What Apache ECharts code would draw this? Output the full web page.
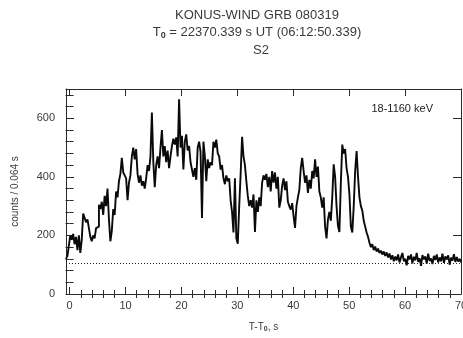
<!DOCTYPE html>
<html>
<head>
<meta charset="utf-8">
<script src="https://cdn.jsdelivr.net/npm/echarts@6/dist/echarts.min.js"></script>
<style>
  html, body { margin: 0; padding: 0; background: #ffffff; }
  #chart { width: 463px; height: 338px; }
</style>
</head>
<body>
<div id="chart"></div>
<script>
// Konus-Wind S2 light curve, 18-1160 keV, rebinned to 0.256 s
const binStart = -0.64;   // s, relative to T0
const binWidth = 0.256;   // s

// counts per 0.064 s, one value per bin
const countsRise = [
  120, 130, 165, 200, 185, 205, 170, 195, 150, 200,
  140, 185, 275, 260, 245, 255, 225, 195, 180, 200,
  190, 225, 230, 305, 290, 315, 270, 335, 300, 360,
  255, 180, 215, 290, 270, 350, 330, 385, 410, 465,
  415, 405
];
const countsFirstPeak = [
  395, 320, 380, 405, 470, 500, 460, 495, 410, 380,
  405, 370, 385, 360, 395, 440, 420, 470, 620, 450,
  365, 440, 470, 430, 500, 560, 470, 505, 450, 490,
  430, 470, 505, 530, 510, 535, 470, 665, 500, 540,
  425, 520, 545, 490, 505, 450, 425, 400, 430, 390,
  500, 520, 485, 260, 520, 470, 385, 460, 430, 450,
  440, 520, 500, 527, 480, 470, 425, 440, 395, 375,
  405, 385, 395, 320, 280, 210, 395, 190
];
const countsMiddle = [
  172, 300, 410, 537, 470, 440, 385, 335, 300, 320,
  295, 340, 212, 320, 280, 330, 300, 380, 405, 390,
  410, 365, 400, 350, 420, 380, 415, 360, 400, 295,
  320, 370, 395, 355, 385, 315, 300, 288, 310, 265,
  226, 300, 330, 355, 430, 465, 420, 380, 405, 345,
  390, 360, 420, 395, 460, 400, 435, 350, 330, 295,
  330, 230, 190, 255, 280, 250, 330, 443, 400, 300,
  232, 212, 380, 510, 480, 495, 430, 400, 340, 230
];
const countsDecay = [
  210, 300, 420, 488, 400, 330, 300, 285, 250, 230,
  210, 195, 175, 160, 170, 150, 162, 145, 155, 140,
  148, 135, 145, 130, 142, 125, 138, 118, 132, 112,
  128
];
const countsTail = [
  115, 135, 108, 125, 140, 112, 120, 98, 130, 118,
  135, 105, 127, 115, 140, 110, 122, 96, 133, 118,
  128, 104, 138, 113, 121, 102, 130, 116, 135, 108,
  125, 112, 138, 106, 128, 118, 132, 100, 124, 114,
  136, 109, 126, 111, 120, 108
];

const backgroundLevel = 106;

const xMajorTicks = [0, 10, 20, 30, 40, 50, 60, 70];
const xMinorTicks = [2, 4, 6, 8, 12, 14, 16, 18, 22, 24, 26, 28, 32, 34, 36, 38,
                     42, 44, 46, 48, 52, 54, 56, 58, 62, 64, 66, 68];
const yMajorTicks = [0, 200, 400, 600];
const yMinorTicks = [40, 80, 120, 160, 240, 280, 320, 360, 440, 480, 520, 560, 640, 680];

const counts = [].concat(countsRise, countsFirstPeak, countsMiddle, countsDecay, countsTail);
const points = counts.map((c, i) => [binStart + i * binWidth, c]);

const FONT = '"Liberation Sans", Arial, sans-serif';
const TEXT_COLOR = '#3a3a3a';
const FRAME_COLOR = '#2a2a2a';
const X_MIN = -0.64, X_MAX = 70, Y_MIN = 0, Y_MAX = 700;

function frameAxis(base, extra) {
  return Object.assign({
    type: 'value',
    min: base.min, max: base.max,
    splitLine: { show: false },
    axisLine: { show: false },
    axisLabel: { show: false },
    axisTick: { show: true, inside: true, length: 4, lineStyle: { color: FRAME_COLOR, width: 1 } }
  }, extra);
}

const xb = { min: X_MIN, max: X_MAX };
const yb = { min: Y_MIN, max: Y_MAX };

const chart = echarts.init(document.getElementById('chart'), null, { renderer: 'canvas' });

chart.setOption({
  animation: false,
  backgroundColor: '#ffffff',
  grid: { left: 66, right: 2, top: 89, bottom: 44, containLabel: false, outerBoundsMode: 'none' },
  graphic: [
    {
      type: 'text', x: 257, y: 15,
      style: { text: 'KONUS-WIND GRB 080319', align: 'center', verticalAlign: 'middle',
               font: '13px ' + FONT, fill: TEXT_COLOR }
    },
    {
      type: 'text', x: 257, y: 32,
      style: {
        text: 'T{sub|0} = 22370.339 s UT (06:12:50.339)',
        align: 'center', verticalAlign: 'middle',
        fontFamily: FONT, fontSize: 13, fill: TEXT_COLOR,
        rich: { sub: { fontSize: 9, fontWeight: 'bold', fill: TEXT_COLOR, fontFamily: FONT, padding: [7, 0, 0, 0] } }
      }
    },
    {
      type: 'text', x: 261, y: 50,
      style: { text: 'S2', align: 'center', verticalAlign: 'middle',
               font: '13px ' + FONT, fill: TEXT_COLOR }
    },
    {
      type: 'text', x: 433, y: 109,
      style: { text: '18-1160 keV', align: 'right', verticalAlign: 'middle',
               font: '11px ' + FONT, fill: '#222' }
    }
  ],
  xAxis: [
    {
      type: 'value', position: 'bottom', min: X_MIN, max: X_MAX,
      splitLine: { show: false },
      axisLine: { show: true, onZero: false, lineStyle: { color: FRAME_COLOR, width: 1 } },
      axisTick: { show: true, inside: true, length: 7, customValues: xMajorTicks,
                  lineStyle: { color: FRAME_COLOR, width: 1 } },
      axisLabel: { customValues: xMajorTicks, margin: 6, fontFamily: FONT, fontSize: 11, color: TEXT_COLOR },
      name: 'T-T{sub|0}, s', nameLocation: 'middle', nameGap: 27,
      nameTextStyle: { fontFamily: FONT, fontSize: 10, color: TEXT_COLOR,
                       rich: { sub: { fontSize: 7, fontWeight: 'bold', color: TEXT_COLOR, padding: [5, 0, 0, 0] } } }
    },
    frameAxis(xb, { position: 'bottom', axisTick: { show: true, inside: true, length: 4, customValues: xMinorTicks,
                                                   lineStyle: { color: FRAME_COLOR, width: 1 } } }),
    frameAxis(xb, { position: 'top', axisLine: { show: true, onZero: false, lineStyle: { color: FRAME_COLOR, width: 1 } },
                    axisTick: { show: true, inside: true, length: 7, customValues: xMajorTicks,
                                lineStyle: { color: FRAME_COLOR, width: 1 } } }),
    frameAxis(xb, { position: 'top', axisTick: { show: true, inside: true, length: 4, customValues: xMinorTicks,
                                                lineStyle: { color: FRAME_COLOR, width: 1 } } })
  ],
  yAxis: [
    {
      type: 'value', position: 'left', min: Y_MIN, max: Y_MAX,
      splitLine: { show: false },
      axisLine: { show: true, onZero: false, lineStyle: { color: FRAME_COLOR, width: 1 } },
      axisTick: { show: true, inside: true, length: 8, customValues: yMajorTicks,
                  lineStyle: { color: FRAME_COLOR, width: 1 } },
      axisLabel: { customValues: yMajorTicks, margin: 11, fontFamily: FONT, fontSize: 11, color: TEXT_COLOR },
      name: 'counts / 0.064 s', nameLocation: 'middle', nameGap: 46,
      nameTextStyle: { fontFamily: FONT, fontSize: 10, color: TEXT_COLOR }
    },
    frameAxis(yb, { position: 'left', axisTick: { show: true, inside: true, length: 4, customValues: yMinorTicks,
                                                 lineStyle: { color: FRAME_COLOR, width: 1 } } }),
    frameAxis(yb, { position: 'right', axisLine: { show: true, onZero: false, lineStyle: { color: FRAME_COLOR, width: 1 } },
                    axisTick: { show: true, inside: true, length: 8, customValues: yMajorTicks,
                                lineStyle: { color: FRAME_COLOR, width: 1 } } }),
    frameAxis(yb, { position: 'right', axisTick: { show: true, inside: true, length: 4, customValues: yMinorTicks,
                                                  lineStyle: { color: FRAME_COLOR, width: 1 } } })
  ],
  series: [
    {
      type: 'line',
      xAxisIndex: 0, yAxisIndex: 0,
      step: 'end',
      data: points,
      showSymbol: false, symbol: 'none',
      lineStyle: { color: '#0a0a0a', width: 1.9 },
      markLine: {
        silent: true, symbol: 'none',
        label: { show: false },
        lineStyle: { type: [1, 2], color: '#222222', width: 1 },
        data: [{ yAxis: backgroundLevel }]
      }
    }
  ]
});
</script>
</body>
</html>
